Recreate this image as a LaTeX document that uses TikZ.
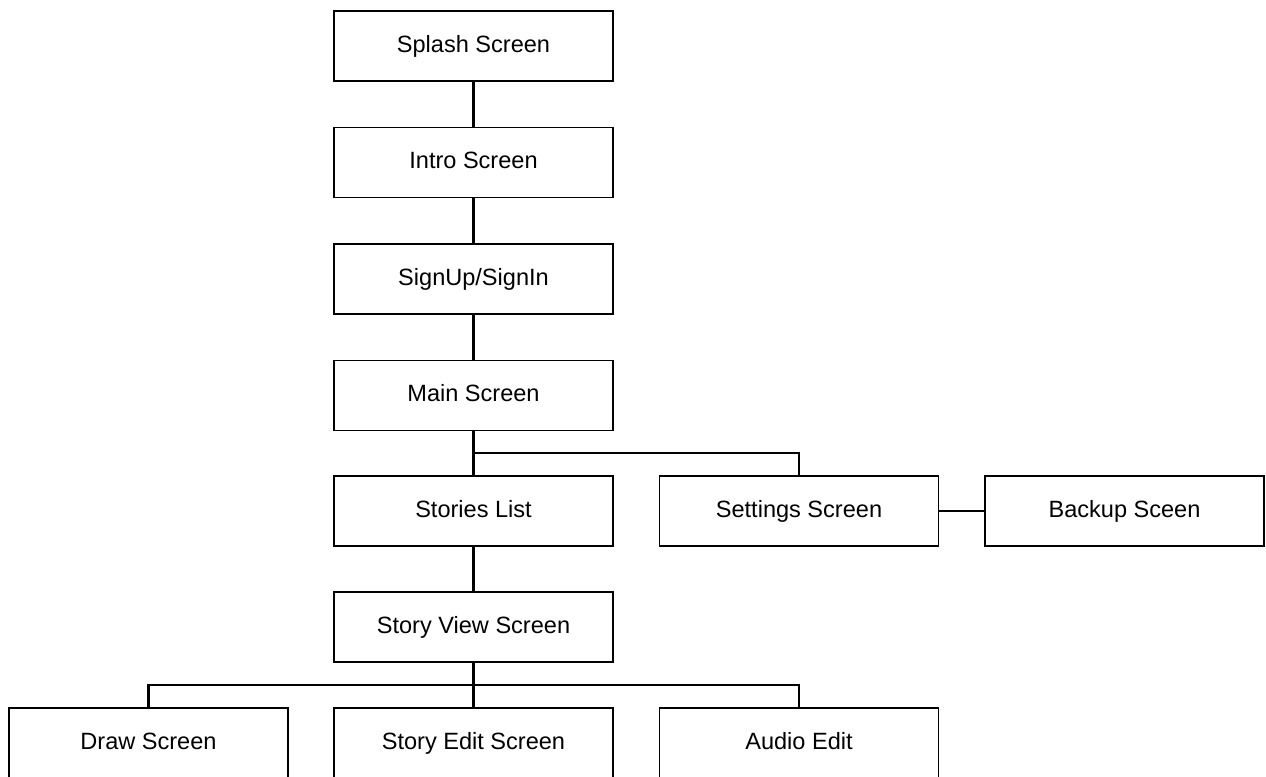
\documentclass[tikz,border=0pt]{standalone}
\usepackage{fontspec}
\setmainfont{Liberation Sans}
\begin{document}
\begin{tikzpicture}[every node/.style={font=\fontsize{13.4}{16}\selectfont},
  screen/.style={draw,line width=1.1pt,minimum width=5.58cm,minimum height=1.4cm,align=center,text height=1.4ex,text depth=0.05ex},
  link/.style={line width=1.2pt}]
  \useasboundingbox (0,0) rectangle (25.32,-15.52);
  \node[screen] (splash) at (9.47,-0.92) {Splash Screen};
  \node[screen] (intro) at (9.47,-3.25) {Intro Screen};
  \node[screen] (sign) at (9.47,-5.58) {SignUp/SignIn};
  \node[screen] (main) at (9.47,-7.91) {Main Screen};
  \node[screen] (stories) at (9.47,-10.22) {Stories List};
  \node[screen] (settings) at (15.98,-10.22) {Settings Screen};
  \node[screen] (backup) at (22.49,-10.22) {Backup Sceen};
  \node[screen] (view) at (9.47,-12.54) {Story View Screen};
  \node[screen] (drawscr) at (2.97,-14.86) {Draw Screen};
  \node[screen] (edit) at (9.47,-14.86) {Story Edit Screen};
  \node[screen] (audio) at (15.98,-14.86) {Audio Edit};
  \coordinate (mainfork) at (9.47,-9.06);
  \coordinate (viewfork) at (9.47,-13.70);
  \draw[link] (splash) -- (intro); \draw[link] (intro) -- (sign); \draw[link] (sign) -- (main);
  \draw[link] (main) -- (stories); \draw[link] (mainfork) -| (settings); \draw[link] (settings) -- (backup);
  \draw[link] (stories) -- (view); \draw[link] (view) -- (edit);
  \draw[link] (drawscr) |- (viewfork) -| (audio);
\end{tikzpicture}
\end{document}
